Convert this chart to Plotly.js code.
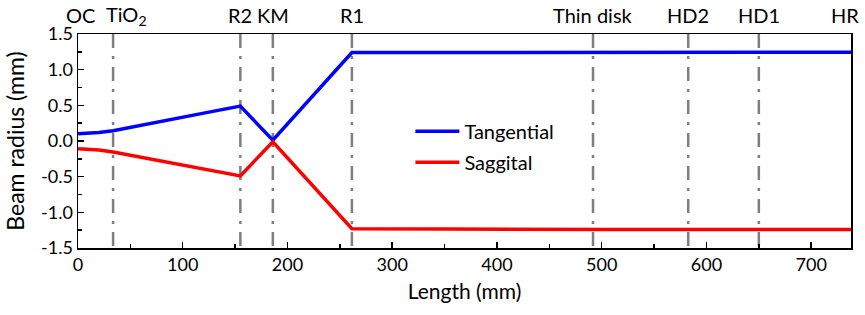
<!DOCTYPE html>
<html><head><meta charset="utf-8">
<script src="https://cdn.plot.ly/plotly-3.0.1.min.js"></script>
<style>body{margin:0;background:#fff}</style></head>
<body><div id="chart" style="width:865px;height:315px"></div>
<script>
// Beam path positions (mm)
const lengthMM = [0, 10, 20, 33.5, 50, 75, 100, 125, 155, 186, 261.5, 350, 420, 500, 600, 738];
// Tangential beam radius (mm)
const tangential = [0.10, 0.105, 0.12, 0.145, 0.19, 0.26, 0.33, 0.405, 0.49, 0.01, 1.24, 1.24, 1.245, 1.245, 1.245, 1.245];
// Saggital beam radius (mm)
const saggital = [-0.11, -0.113, -0.125, -0.155, -0.2, -0.265, -0.335, -0.405, -0.49, -0.01, -1.23, -1.235, -1.24, -1.24, -1.24, -1.24];
// Cavity elements
const elementNames = ["OC", "TiO<sub>2</sub>", "R2", "KM", "R1", "Thin disk", "HD2", "HD1", "HR"];
const elementPos = [0, 33.5, 155, 186, 261.5, 491.7, 582.6, 650, 738];
const markedElements = ["TiO<sub>2</sub>", "R2", "KM", "R1", "Thin disk", "HD2", "HD1"];
// Tick labels
const yTickVals = [-1.5, -1.0, -0.5, 0.0, 0.5, 1.0, 1.5];
const yTickText = ["-1.5", "-1.0", "-0.5", "0.0", "0.5", "1.0", "1.5"];
const xTickVals = [0, 100, 200, 300, 400, 500, 600, 700];

const FONT = "Lato, 'Open Sans', sans-serif";
const labelShift = {"OC": 2, "TiO<sub>2</sub>": 13, "HR": -6};

const traces = [
  {x: lengthMM, y: tangential, name: "Tangential", mode: "lines",
   line: {color: "#0000ff", width: 3.5}, legendgroup: "a"},
  {x: lengthMM, y: saggital, name: "Saggital", mode: "lines",
   line: {color: "#ff0000", width: 3.5}, legendgroup: "b"}
];

const shapes = [];
const annotations = [];
elementNames.forEach((n, i) => {
  if (markedElements.includes(n)) {
    shapes.push({type: "line", xref: "x", yref: "paper", x0: elementPos[i], x1: elementPos[i],
      y0: 1, y1: 0, line: {color: "#7f7f7f", width: 2.5, dash: "14px,8px,3px,8px"}, layer: "below"});
  }
  annotations.push({x: elementPos[i], xref: "x", y: 1, yref: "paper", yanchor: "middle",
    yshift: 19, xshift: labelShift[n] || 0, text: n, showarrow: false,
    font: {family: FONT, size: 20, color: "#000"}});
});

const layout = {
  width: 865, height: 315,
  margin: {l: 78, r: 14, t: 34, b: 67},
  paper_bgcolor: "#fff", plot_bgcolor: "#fff",
  font: {family: FONT, size: 18, color: "#000"},
  showlegend: true,
  legend: {x: 0.43, y: 0.637, xanchor: "left", yanchor: "top", bgcolor: "rgba(0,0,0,0)",
    font: {family: FONT, size: 20, color: "#000"}, tracegroupgap: 2, itemwidth: 44},
  xaxis: {range: [0, 738], tickmode: "array", tickvals: xTickVals,
    ticks: "inside", ticklen: 6, tickwidth: 1.5, tickcolor: "#000",
    minor: {tickmode: "linear", tick0: 0, dtick: 50, ticks: "inside", ticklen: 4, tickwidth: 1.5, tickcolor: "#000"},
    showline: true, linecolor: "#000", linewidth: 1.5, mirror: true,
    showgrid: false, zeroline: false, tickfont: {family: FONT, size: 18},
    title: {text: "Length (mm)", font: {family: FONT, size: 21}, standoff: 10}},
  yaxis: {range: [-1.5, 1.5], tickmode: "array", tickvals: yTickVals, ticktext: yTickText,
    ticks: "inside", ticklen: 6, tickwidth: 1.5, tickcolor: "#000",
    minor: {tickmode: "linear", tick0: -1.5, dtick: 0.25, ticks: "inside", ticklen: 4, tickwidth: 1.5, tickcolor: "#000"},
    showline: true, linecolor: "#000", linewidth: 1.5, mirror: true,
    showgrid: false, zeroline: false, tickfont: {family: FONT, size: 18},
    title: {text: "Beam radius (mm)", font: {family: FONT, size: 23}, standoff: 10}},
  shapes: shapes,
  annotations: annotations
};

Plotly.newPlot("chart", traces, layout, {displayModeBar: false, staticPlot: true});
</script>
</body></html>
